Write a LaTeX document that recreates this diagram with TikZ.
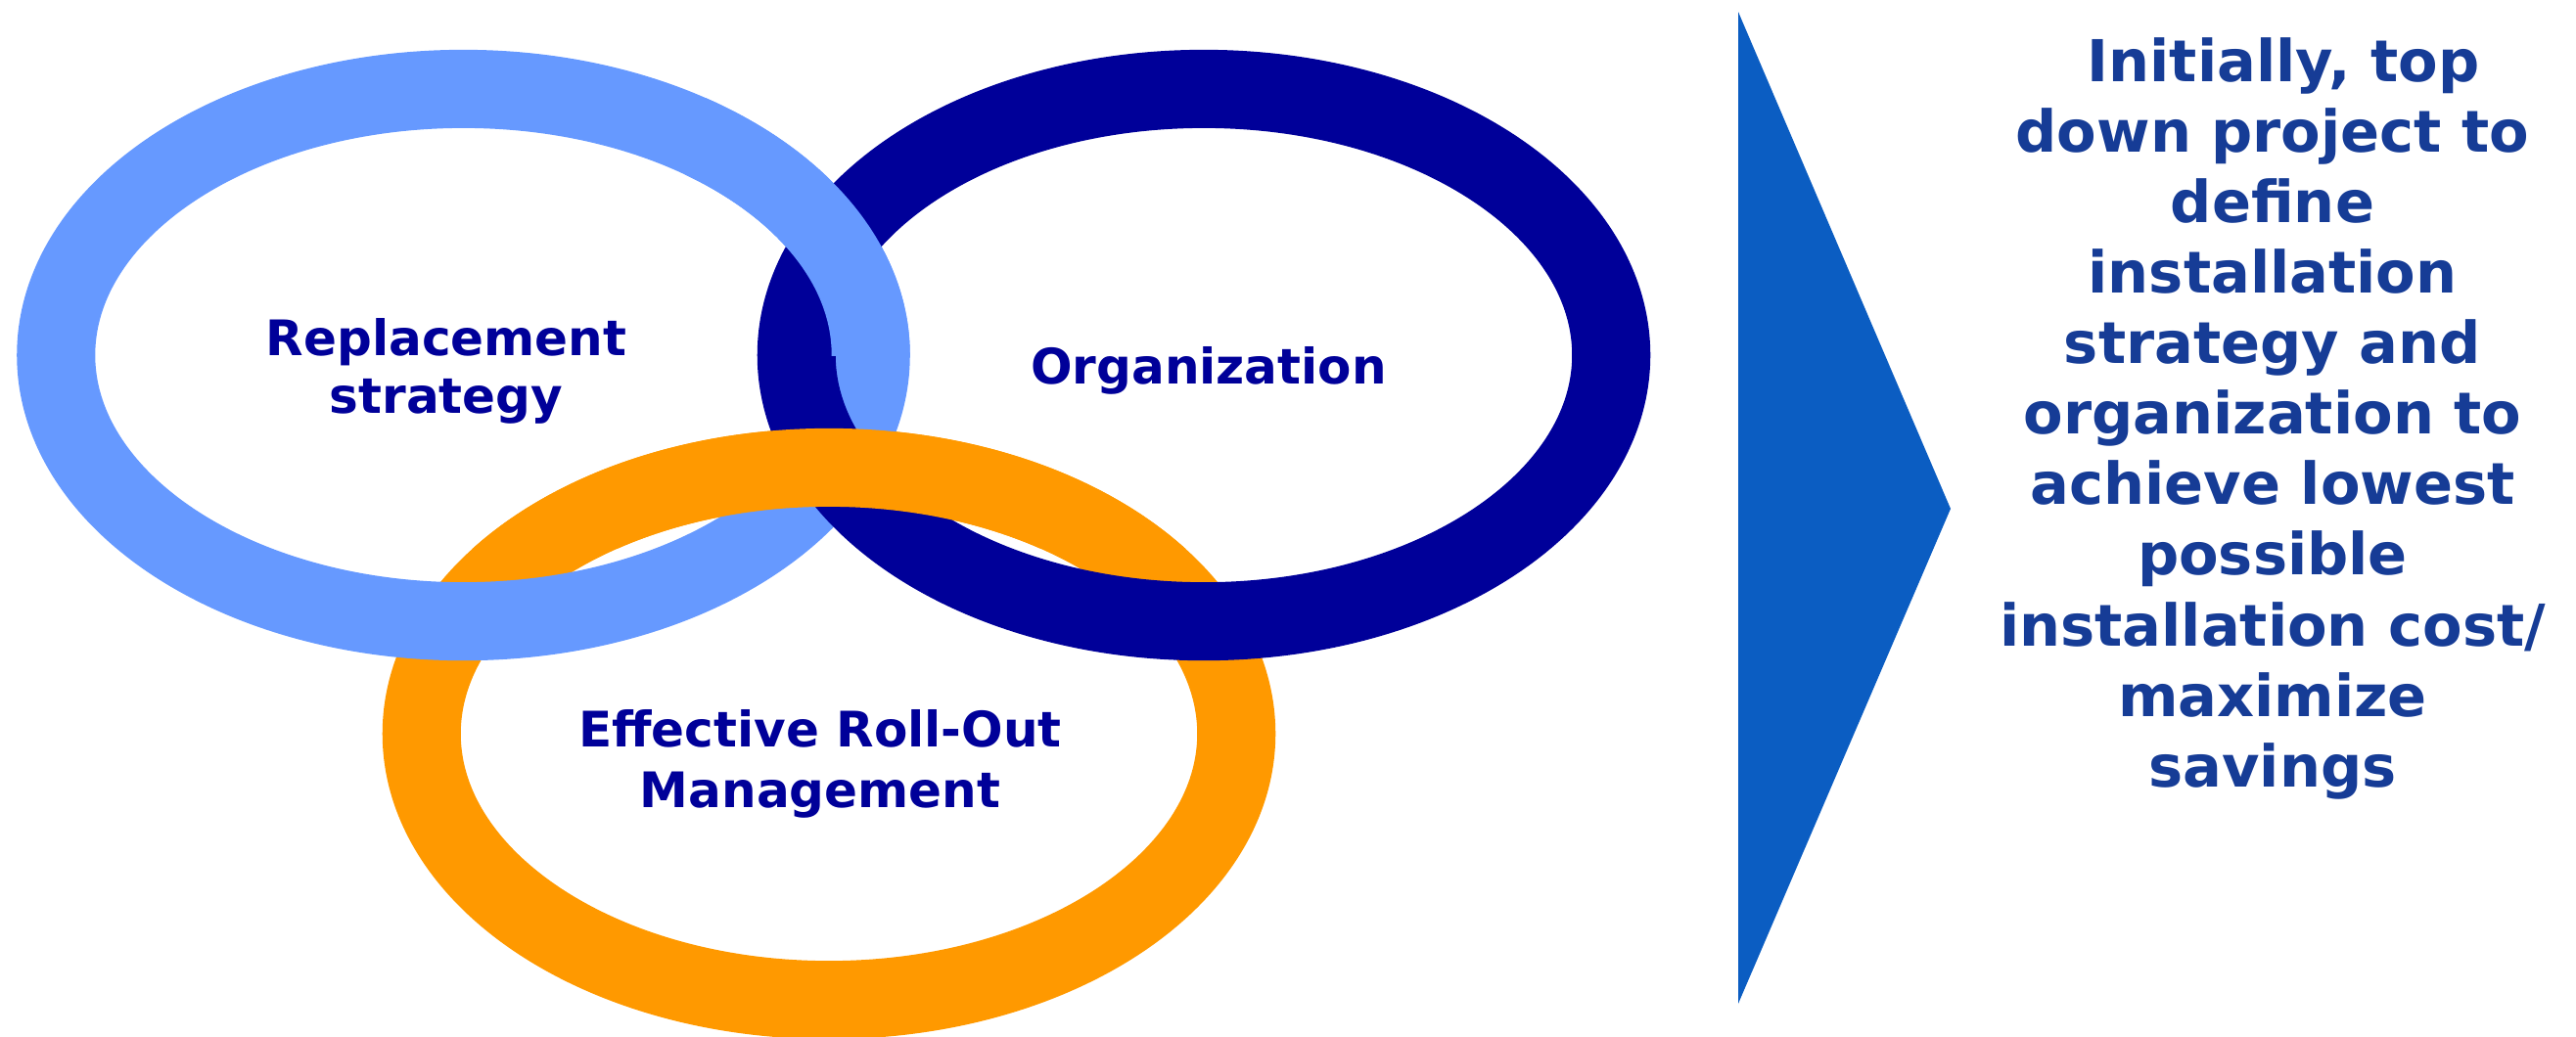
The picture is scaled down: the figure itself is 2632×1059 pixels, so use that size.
\documentclass[tikz,border=0pt]{standalone}
\usepackage{fontspec}
\setmainfont{DejaVu Sans}
\definecolor{ringlight}{RGB}{102,153,255}
\definecolor{ringdark}{RGB}{0,0,153}
\definecolor{ringorange}{RGB}{255,153,0}
\definecolor{arrowblue}{RGB}{11,93,194}
\definecolor{sidetext}{RGB}{22,60,150}
\begin{document}
\begin{tikzpicture}[x=0.01cm,y=-0.01cm,
  ring/.style={line width=0.8cm},
  ringlabel/.style={font=\fontsize{14.23}{17.07}\selectfont\bfseries, text=ringdark, align=center, inner sep=0pt, anchor=base},
  sidelabel/.style={font=\fontsize{16.79}{20.49}\selectfont\bfseries, text=sidetext, align=center, inner sep=0pt, anchor=north}]
\useasboundingbox (0,0) rectangle (2632,1059);
\clip (0,0) rectangle (2632,1059);
% rings
\draw[ring, ringorange] (847,750) ellipse [x radius=4.16cm, y radius=2.72cm];
\draw[ring, ringlight] (473.5,363) ellipse [x radius=4.16cm, y radius=2.72cm];
\draw[ring, ringdark] (1230,363) ellipse [x radius=4.16cm, y radius=2.72cm];
% light blue over dark blue in the upper half of their overlap
\begin{scope}
  \clip (700,100) rectangle (1000,363);
  \draw[ring, ringlight] (473.5,363) ellipse [x radius=4.16cm, y radius=2.72cm];
\end{scope}
% orange over both at its upper crossings
\begin{scope}
  \clip (300,400) rectangle (1400,560);
  \draw[ring, ringorange] (847,750) ellipse [x radius=4.16cm, y radius=2.72cm];
\end{scope}
% labels
\node[ringlabel] (rep1) at (456,363) {Replacement};
\node[ringlabel] (rep2) at (456,422) {strategy};
\node[ringlabel] (org) at (1235,392) {Organization};
\node[ringlabel] (eff1) at (838,763) {Effective Roll-Out};
\node[ringlabel] (eff2) at (838,825) {Management};
% arrow
\fill[arrowblue] (1776,12) -- (1993,520) -- (1776,1026) -- cycle;
% side text
\node[sidelabel] (side) at (2322,38) {\hspace*{0.22cm}Initially, top\\down project to\\define\\installation\\strategy and\\organization to\\achieve lowest\\possible\\installation cost/\\maximize\\savings};
\end{tikzpicture}
\end{document}
